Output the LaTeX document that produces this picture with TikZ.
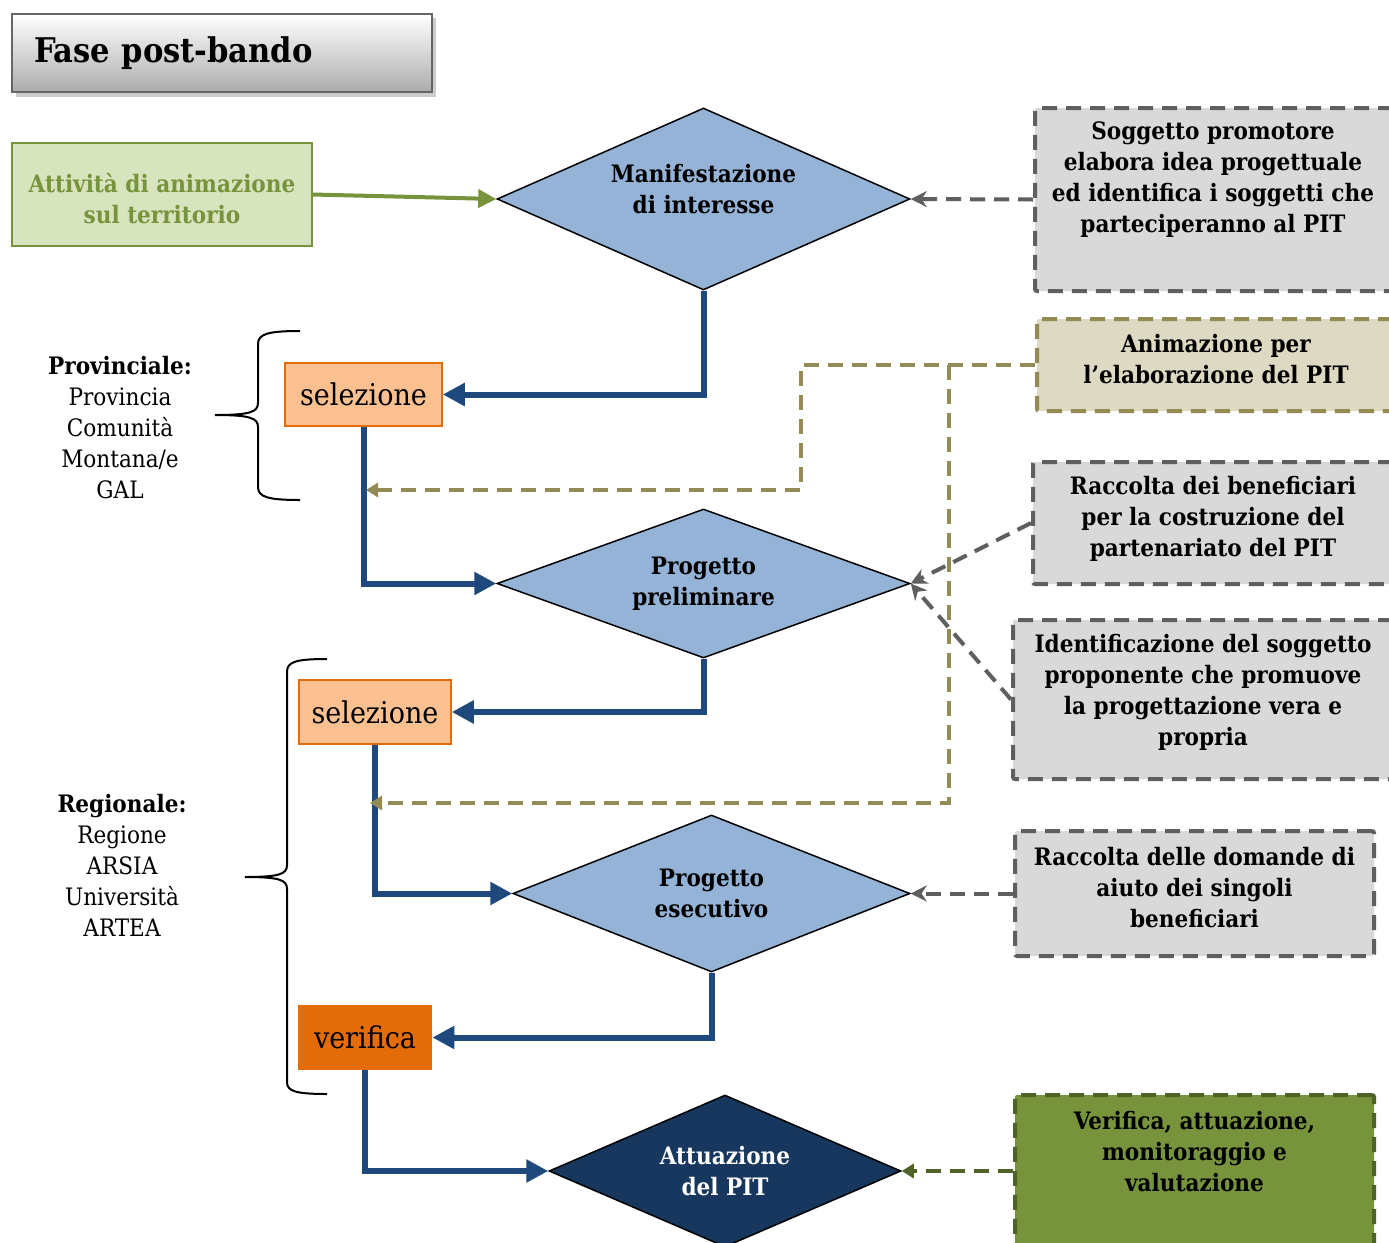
\documentclass[tikz,border=0pt]{standalone}
\usepackage{fontspec}
\IfFontExistsTF{DejaVu Serif Condensed}{\setmainfont{DejaVu Serif Condensed}}{\setmainfont{DejaVu Serif}}
\usetikzlibrary{shapes.geometric,arrows.meta}
\definecolor{blueC}{HTML}{1F497D}
\definecolor{diaC}{HTML}{95B3D7}
\definecolor{darkdiaC}{HTML}{17375E}
\definecolor{selC}{HTML}{FAC090}
\definecolor{orC}{HTML}{E36C09}
\definecolor{grayfillC}{HTML}{D9D9D9}
\definecolor{graylineC}{HTML}{5F5F5F}
\definecolor{oliveC}{HTML}{948A54}
\definecolor{olivefillC}{HTML}{DDD9C3}
\definecolor{greenC}{HTML}{77933C}
\definecolor{lightgreenC}{HTML}{D7E4BD}
\definecolor{darkgreenC}{HTML}{4F6228}
\begin{document}
\begin{tikzpicture}[x=0.5pt,y=-0.5pt,
  bodytext/.style={font={\fontsize{12}{15.5}\selectfont\bfseries}, align=center},
  dia/.style={diamond, draw=black, line width=0.75pt, fill=diaC, inner sep=0pt, bodytext},
  dashbox/.style={rectangle, rounded corners=1pt, line width=2pt, dash pattern=on 7.5pt off 4.5pt, inner sep=0pt, bodytext},
  graybox/.style={dashbox, draw=graylineC, fill=grayfillC},
  selbox/.style={rectangle, inner sep=0pt, font={\fontsize{15}{17}\selectfont}},
  blueline/.style={draw=blueC, line width=3pt, -{Triangle[length=11pt,width=11pt]}},
  graydash/.style={draw=graylineC, line width=2pt, dash pattern=on 7.5pt off 4.5pt, -{Stealth[length=8pt,width=8pt]}},
  olivedash/.style={draw=oliveC, line width=2pt, dash pattern=on 7.5pt off 4.5pt, -{Triangle[length=6pt,width=7pt]}},
  greendash/.style={draw=darkgreenC, line width=2pt, dash pattern=on 7.5pt off 4.5pt, -{Triangle[length=6pt,width=7pt]}},
  sidetext/.style={font={\fontsize{12}{15.5}\selectfont}, align=center},
  bracestyle/.style={draw=black, line width=1pt}
]
\useasboundingbox (0,0) rectangle (1389,1243);
\fill[white] (0,0) rectangle (1389,1243);

% title
\fill[gray!40] (16,18) rectangle (436,97);
\node[rectangle, draw=gray!80!black, line width=0.9pt, top color=white, bottom color=gray!65,
      minimum width=210pt, minimum height=39pt, text width=188pt, inner xsep=11pt, align=left,
      font={\fontsize{17}{20}\selectfont\bfseries}] (title) at (222,53) {Fase post-bando};

% left green box
\node[rectangle, draw=greenC, line width=1pt, fill=lightgreenC, minimum width=150pt, minimum height=51.5pt,
      inner sep=0pt] (anim1) at (162,194.5) {};
\node[bodytext, text=greenC] (anim1t) at (162,198.5) {Attività di animazione\\sul territorio};

% diamonds
\node[dia, shape aspect=2.27, minimum width=206.5pt, minimum height=91pt] (d1) at (703.5,199) {};
\node[bodytext] (d1t) at (703.5,189.5) {Manifestazione\\di interesse};
\node[dia, shape aspect=2.77, minimum width=206.5pt, minimum height=74.5pt] (d2) at (703.5,583.5) {Progetto\\preliminare};
\node[dia, shape aspect=2.53, minimum width=198.5pt, minimum height=78.5pt] (d3) at (711.5,893.5) {Progetto\\esecutivo};
\node[dia, shape aspect=2.3, fill=darkdiaC, text=white, minimum width=176pt, minimum height=76pt] (d4) at (725,1171) {Attuazione\\del PIT};

% right boxes
\node[graybox, minimum width=180pt, minimum height=91.5pt] (sog) at (1215,199.5) {};
\node[bodytext] (sogt) at (1213,180) {Soggetto promotore\\elabora idea progettuale\\ed identifica i soggetti che\\parteciperanno al PIT};
\node[dashbox, draw=oliveC, fill=olivefillC, minimum width=179pt, minimum height=46pt] (anim) at (1216,365) {};
\node[bodytext] (animt) at (1216,359.5) {Animazione per\\l’elaborazione del PIT};
\node[graybox, minimum width=181pt, minimum height=61pt] (racc1) at (1214,523) {};
\node[bodytext] (racc1t) at (1213,519) {Raccolta dei beneficiari\\per la costruzione del\\partenariato del PIT};
\node[graybox, minimum width=191pt, minimum height=79.5pt] (ident) at (1204,699.5) {};
\node[bodytext] (identt) at (1203,692) {Identificazione del soggetto\\proponente che promuove\\la progettazione vera e\\propria};
\node[graybox, minimum width=179.5pt, minimum height=62.5pt] (racc2) at (1194.5,893.5) {};
\node[bodytext] (racc2t) at (1194.5,888) {Raccolta delle domande di\\aiuto dei singoli\\beneficiari};
\node[dashbox, draw=darkgreenC, fill=greenC, minimum width=179.5pt, minimum height=76pt] (verbox) at (1194.5,1171) {};
\node[bodytext] (vertext) at (1194.5,1152) {Verifica, attuazione,\\monitoraggio e\\valutazione};

% selection boxes
\node[selbox, draw=orC, line width=0.75pt, fill=selC, minimum width=78.5pt, minimum height=31.5pt] (sel1) at (363.5,394.5) {selezione};
\node[selbox, draw=orC, line width=0.75pt, fill=selC, minimum width=76pt, minimum height=32pt] (sel2) at (375,712) {selezione};
\node[selbox, fill=orC, minimum width=67pt, minimum height=32.5pt] (ver) at (365,1037.5) {verifica};

% side texts
\node[sidetext] (prov) at (120,427.5) {\textbf{Provinciale:}\\Provincia\\Comunità\\Montana/e\\GAL};
\node[sidetext] (reg) at (122,865.5) {\textbf{Regionale:}\\Regione\\ARSIA\\Università\\ARTEA};

% braces
\draw[bracestyle] (300,331) .. controls (268,331) and (258,334) .. (258,344) -- (258,403) .. controls (258,412) and (250,415) .. (215,415) .. controls (250,415) and (258,418) .. (258,427) -- (258,487) .. controls (258,497) and (268,500) .. (300,500);
\draw[bracestyle] (327,659) .. controls (295,659) and (287,662) .. (287,672) -- (287,865) .. controls (287,874) and (280,877) .. (245,877) .. controls (280,877) and (287,880) .. (287,889) -- (287,1082) .. controls (287,1091) and (295,1094) .. (327,1094);

% blue flow
\draw[blueline] (d1.south) |- (sel1.east);
\draw[blueline] (sel1.south) |- (d2.west);
\draw[blueline] (d2.south) |- (sel2.east);
\draw[blueline] (sel2.south) |- (d3.west);
\draw[blueline] (d3.south) |- (ver.east);
\draw[blueline] (ver.south) |- (d4.west);

% green arrow
\draw[draw=greenC, line width=2pt, -{Triangle[length=9pt,width=9pt]}] (anim1.east) -- (d1.west);

% gray dashed arrows
\draw[graydash] (sog.west) -- (d1.east);
\draw[graydash] (racc1.west) -- (d2.east);
\draw[graydash] (ident.west) -- (d2.east);
\draw[graydash] (racc2.west) -- (d3.east);
\draw[greendash] (verbox.west) -- (d4.east);

% olive dashed
\coordinate (k1) at (801,490);
\coordinate (t1) at (366,490);
\coordinate (j1) at (949,365);
\coordinate (t2) at (370,803);
\draw[olivedash] (anim.west) -| (k1) -- (t1);
\draw[olivedash] (j1) |- (t2);
\end{tikzpicture}
\end{document}
